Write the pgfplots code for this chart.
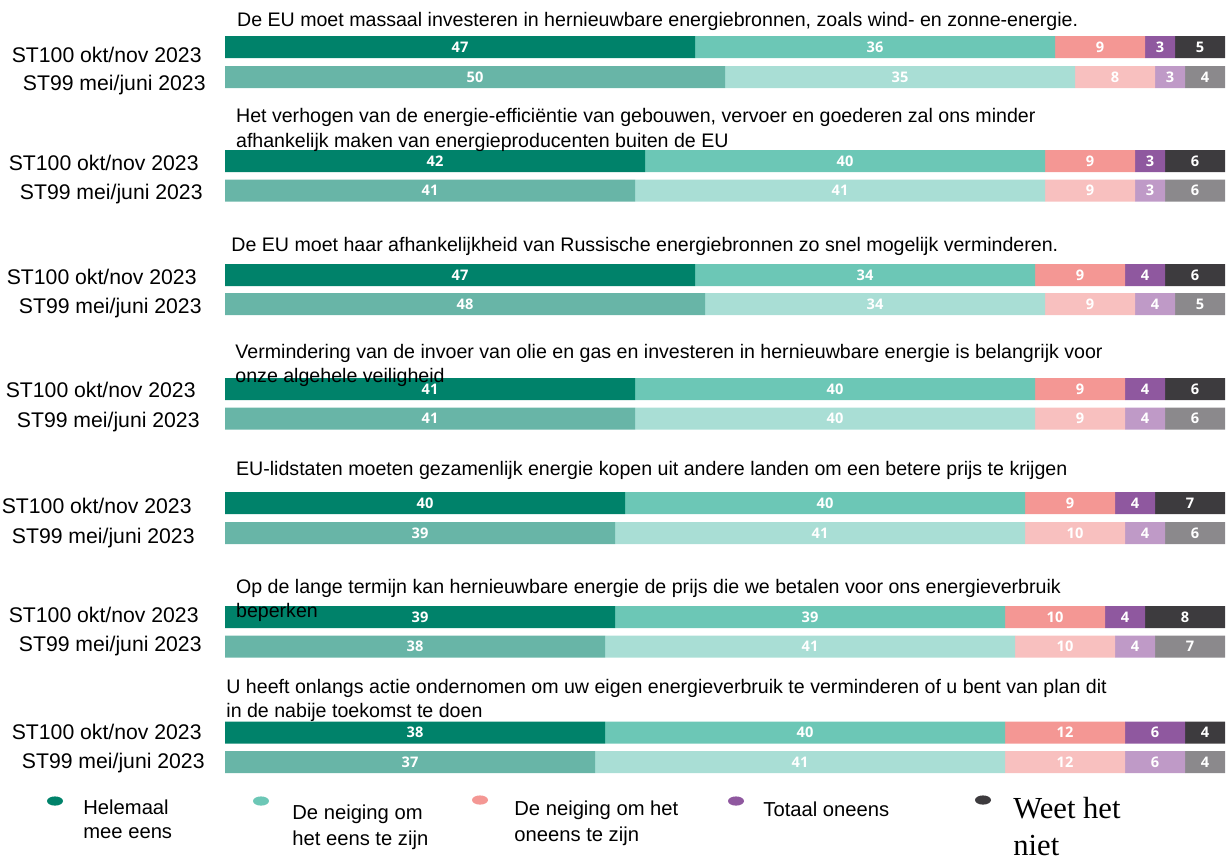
\documentclass[border=0pt]{standalone}
\usepackage{fontspec}
\setmainfont{Liberation Sans}
\newfontfamily\numfont{Open Sans}
\newfontfamily\timesfont{Liberation Serif}
\usepackage{pgfplots}
\usepackage{pgfplotstable}
\pgfplotsset{compat=1.18}

\definecolor{agreeA}{RGB}{0,130,106}
\definecolor{tendA}{RGB}{108,199,182}
\definecolor{tdisA}{RGB}{244,151,148}
\definecolor{disA}{RGB}{143,88,159}
\definecolor{dkA}{RGB}{61,59,62}
\definecolor{agreeB}{RGB}{104,181,167}
\definecolor{tendB}{RGB}{169,222,213}
\definecolor{tdisB}{RGB}{248,192,191}
\definecolor{disB}{RGB}{191,154,199}
\definecolor{dkB}{RGB}{139,137,140}

% ST100 okt/nov 2023 -- y is the row position (px from the top)
\pgfplotstableread{
y      a   b   c   d  e
47     47  36  9   3  5
161    42  40  9   3  6
275    47  34  9   4  6
389    41  40  9   4  6
503    40  40  9   4  7
617    39  39  10  4  8
732.5  38  40  12  6  4
}\stA
% ST99 mei/juni 2023
\pgfplotstableread{
y      a   b   c   d  e
77     50  35  8   3  4
190.5  41  41  9   3  6
304    48  34  9   4  5
418.5  41  40  9   4  6
533    39  41  10  4  6
646.5  38  41  10  4  7
762    37  41  12  6  4
}\stB

\pgfplotsset{
  base/.style={
    scale only axis, width=615.5pt, height=429.5pt,
    xmin=-22.5, xmax=100.6, ymin=0, ymax=859, y dir=reverse,
    hide axis, clip=false,
    xbar stacked, bar width=22,
  },
  seg/.style 2 args={
    fill=#2, draw=none,
    visualization depends on={\thisrow{#1} \as \rawx},
    nodes near coords={\pgfmathprintnumber[assume math mode=true,precision=0]{\rawx}},
    every node near coord/.append style={text=white, anchor=center,
      font=\numfont\bfseries\fontsize{7.3}{7.3}\selectfont},
  },
}

\tikzset{
  ttl/.style={anchor=base west, inner sep=0pt, font=\fontsize{9.8}{12}\selectfont},
  lbl/.style={anchor=base east, inner sep=0pt, font=\fontsize{10.6}{12}\selectfont},
  leg/.style={anchor=base west, inner sep=0pt, font=\fontsize{10.1}{12}\selectfont},
}

\begin{document}
\begin{tikzpicture}
\begin{axis}[base]
  \path (axis cs:-22.5,0) rectangle (axis cs:100.6,859);
  \addplot[seg={a}{agreeA}] table[x=a,y=y]{\stA};
  \addplot[seg={b}{tendA}]  table[x=b,y=y]{\stA};
  \addplot[seg={c}{tdisA}]  table[x=c,y=y]{\stA};
  \addplot[seg={d}{disA}]   table[x=d,y=y]{\stA};
  \addplot[seg={e}{dkA}]    table[x=e,y=y]{\stA};

  % row labels
  \node[lbl] at (axis cs:-2.3,62)  {ST100 okt/nov 2023};
  \node[lbl] at (axis cs:-1.9,90)  {ST99 mei/juni 2023};
  \node[lbl] at (axis cs:-2.6,170) {ST100 okt/nov 2023};
  \node[lbl] at (axis cs:-2.2,199) {ST99 mei/juni 2023};
  \node[lbl] at (axis cs:-2.8,284) {ST100 okt/nov 2023};
  \node[lbl] at (axis cs:-2.3,313) {ST99 mei/juni 2023};
  \node[lbl] at (axis cs:-2.9,397) {ST100 okt/nov 2023};
  \node[lbl] at (axis cs:-2.5,427) {ST99 mei/juni 2023};
  \node[lbl] at (axis cs:-3.3,513) {ST100 okt/nov 2023};
  \node[lbl] at (axis cs:-3.0,543) {ST99 mei/juni 2023};
  \node[lbl] at (axis cs:-2.6,622) {ST100 okt/nov 2023};
  \node[lbl] at (axis cs:-2.3,651) {ST99 mei/juni 2023};
  \node[lbl] at (axis cs:-2.3,739) {ST100 okt/nov 2023};
  \node[lbl] at (axis cs:-2.0,768) {ST99 mei/juni 2023};
\end{axis}

\begin{axis}[base]
  \addplot[seg={a}{agreeB}] table[x=a,y=y]{\stB};
  \addplot[seg={b}{tendB}]  table[x=b,y=y]{\stB};
  \addplot[seg={c}{tdisB}]  table[x=c,y=y]{\stB};
  \addplot[seg={d}{disB}]   table[x=d,y=y]{\stB};
  \addplot[seg={e}{dkB}]    table[x=e,y=y]{\stB};

  % statements (drawn last, over the bars)
  \node[ttl] at (axis cs:1.17,26) {De EU moet massaal investeren in hernieuwbare energiebronnen, zoals wind- en zonne-energie.};
  \node[ttl] at (axis cs:1.07,122) {Het verhogen van de energie-efficiëntie van gebouwen, vervoer en goederen zal ons minder};
  \node[ttl] at (axis cs:1.07,147) {afhankelijk maken van energieproducenten buiten de EU};
  \node[ttl] at (axis cs:0.6,251) {De EU moet haar afhankelijkheid van Russische energiebronnen zo snel mogelijk verminderen.};
  \node[ttl] at (axis cs:1.0,358) {Vermindering van de invoer van olie en gas en investeren in hernieuwbare energie is belangrijk voor};
  \node[ttl] at (axis cs:1.0,382) {onze algehele veiligheid};
  \node[ttl] at (axis cs:1.07,475) {EU-lidstaten moeten gezamenlijk energie kopen uit andere landen om een betere prijs te krijgen};
  \node[ttl] at (axis cs:1.07,593) {Op de lange termijn kan hernieuwbare energie de prijs die we betalen voor ons energieverbruik};
  \node[ttl] at (axis cs:1.07,617) {beperken};
  \node[ttl] at (axis cs:0.1,693) {U heeft onlangs actie ondernomen om uw eigen energieverbruik te verminderen of u bent van plan dit};
  \node[ttl] at (axis cs:0.1,717) {in de nabije toekomst te doen};

  % legend
  \fill[agreeA] (axis cs:-17,801) ellipse[x radius=4pt, y radius=2.3pt];
  \node[leg] at (axis cs:-14.2,814) {Helemaal};
  \node[leg] at (axis cs:-14.2,838) {mee eens};
  \fill[tendA] (axis cs:3.6,801) ellipse[x radius=4pt, y radius=2.3pt];
  \node[leg] at (axis cs:6.7,819) {De neiging om};
  \node[leg] at (axis cs:6.7,845) {het eens te zijn};
  \fill[tdisA] (axis cs:25.5,800) ellipse[x radius=4pt, y radius=2.3pt];
  \node[leg] at (axis cs:28.9,815) {De neiging om het};
  \node[leg] at (axis cs:28.9,841) {oneens te zijn};
  \fill[disA] (axis cs:51.1,801) ellipse[x radius=4pt, y radius=2.3pt];
  \node[leg] at (axis cs:53.8,816) {Totaal oneens};
  \fill[dkA] (axis cs:75.8,800) ellipse[x radius=4pt, y radius=2.3pt];
  \node[anchor=base west, inner sep=0pt, font=\timesfont\fontsize{15.3}{18}\selectfont] at (axis cs:78.8,818) {Weet het};
  \node[anchor=base west, inner sep=0pt, font=\timesfont\fontsize{15.3}{18}\selectfont] at (axis cs:78.8,855) {niet};
\end{axis}
\end{tikzpicture}
\end{document}
